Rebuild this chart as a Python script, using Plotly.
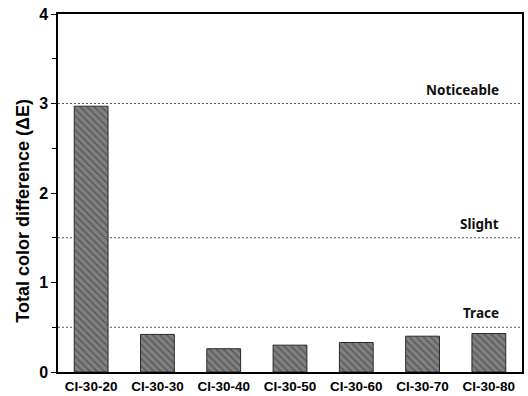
import plotly.graph_objects as go

samples = ["CI-30-20", "CI-30-30", "CI-30-40", "CI-30-50", "CI-30-60", "CI-30-70", "CI-30-80"]
delta_e = [2.97, 0.42, 0.26, 0.30, 0.33, 0.40, 0.43]

# Perceptibility thresholds for colour difference
level_names = ["Noticeable", "Slight", "Trace"]
level_values = [3.0, 1.5, 0.5]

fig = go.Figure()
fig.add_trace(go.Bar(
    x=samples,
    y=delta_e,
    width=0.51,
    marker=dict(
        color="#7f7f7f",
        line=dict(color="#2a2a2a", width=1),
        pattern=dict(shape="\\", fgcolor="#333333", bgcolor="#808080",
                     size=5, solidity=0.3),
    ),
    showlegend=False,
))

for name, val in zip(level_names, level_values):
    fig.add_shape(type="line", xref="paper", yref="y", x0=0, x1=1, y0=val, y1=val,
                  line=dict(color="#555555", width=1, dash="2px,2px"), layer="below")
    fig.add_annotation(xref="paper", yref="y", x=0.955, y=val, xanchor="right",
                       yanchor="middle", yshift=14, text=name, showarrow=False,
                       font=dict(family="Noto Sans", size=13.5, color="#111111", weight="bold"))

# Vertical axis title
fig.add_annotation(xref="paper", yref="paper", x=-0.076, y=0.45, xanchor="center",
                   yanchor="middle", textangle=-90, showarrow=False,
                   text="Total color difference (ΔE)",
                   font=dict(size=18, family="Liberation Sans", color="black", weight="bold"))

fig.update_layout(
    width=528, height=396,
    margin=dict(l=58, r=6, t=14, b=24),
    plot_bgcolor="white", paper_bgcolor="white",
    font=dict(family="Liberation Sans", color="black"),
)
fig.update_xaxes(
    showline=True, linecolor="black", linewidth=1.5, mirror=True,
    ticks="", showgrid=False, ticklabelstandoff=1, automargin=False,
    tickfont=dict(size=13.5, family="Liberation Sans", weight="bold"),
)
fig.update_yaxes(
    range=[0, 4], showline=True, linecolor="black", linewidth=1.5, mirror=True,
    tickmode="array", tickvals=[0, 1, 2, 3, 4], ticks="outside", ticklen=5,
    tickwidth=1, tickcolor="black", automargin=False,
    minor=dict(tickvals=[0.5, 1.5, 2.5, 3.5], ticks="outside", ticklen=4,
               tickwidth=1, tickcolor="black", showgrid=False),
    showgrid=False, zeroline=False,
    tickfont=dict(size=16, family="Liberation Sans", weight="bold"),
)

fig.write_html("out.html")
